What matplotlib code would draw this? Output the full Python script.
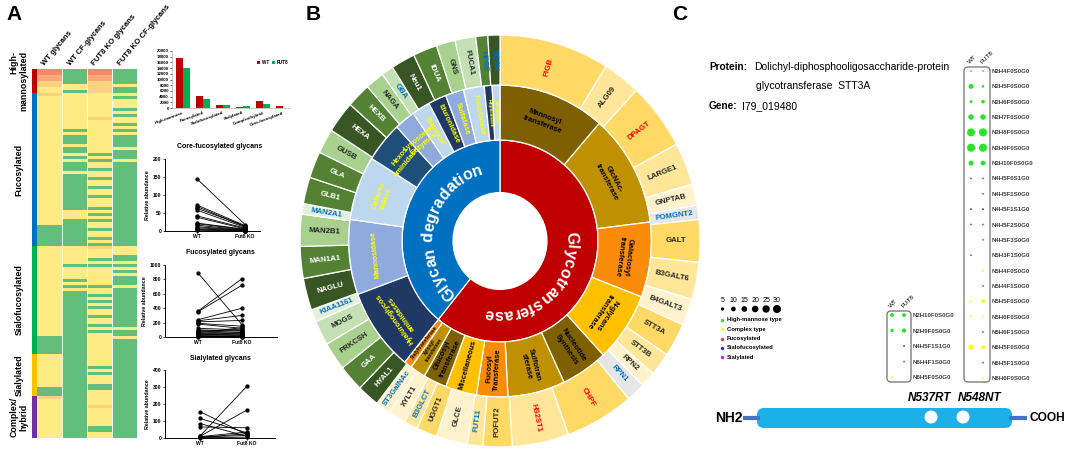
import numpy as np
import matplotlib
matplotlib.use("Agg")
import matplotlib.pyplot as plt
from matplotlib.colors import ListedColormap
from matplotlib.patches import Wedge, FancyBboxPatch, Circle
from matplotlib.font_manager import FontProperties, findfont, get_font

plt.rcParams['font.family'] = ['Liberation Sans', 'DejaVu Sans']

W, H, DPI = 1065, 449, 100

# ---------------- panel A data ----------------
# heatmap columns, run-length coded: g = not detected, y < l < o < r abundance
hm_columns = ['WT glycans', 'WT CF-glycans', 'FUT8 KO glycans', 'FUT8 KO CF-glycans']
hm_wt = [('r', 2), ('o', 2), ('l', 2), ('y', 2), ('l', 1), ('y', 43), ('g', 7),
         ('y', 30), ('g', 6), ('y', 11), ('g', 3), ('l', 1), ('y', 13)]
hm_wt_cf = [('g', 5), ('y', 2), ('g', 1), ('y', 12), ('g', 1), ('y', 1), ('g', 3), ('y', 1),
            ('g', 2), ('y', 1), ('g', 1), ('y', 1), ('g', 3), ('y', 1), ('g', 12), ('y', 3),
            ('g', 9), ('y', 6), ('g', 1), ('y', 4), ('g', 1), ('y', 1), ('g', 1), ('y', 1),
            ('g', 49)]
hm_ko = [('r', 2), ('o', 2), ('l', 4), ('y', 8), ('l', 1), ('y', 11),
         ('g', 1), ('y', 1), ('g', 1), ('y', 2), ('g', 1), ('y', 2), ('g', 1), ('y', 2),
         ('g', 1), ('y', 2), ('g', 1), ('y', 3), ('g', 1), ('y', 1), ('g', 1), ('y', 1),
         ('g', 1), ('y', 2), ('g', 1), ('y', 2), ('g', 1), ('y', 1), ('g', 1),
         ('l', 1), ('y', 3), ('g', 1), ('y', 1), ('g', 1), ('y', 6), ('g', 1), ('y', 2),
         ('g', 1), ('y', 1), ('g', 1), ('y', 1), ('g', 1), ('y', 2), ('g', 1), ('y', 2),
         ('g', 1), ('y', 1), ('g', 1), ('y', 7),
         ('y', 4), ('g', 1), ('y', 1), ('g', 1), ('y', 3), ('g', 2), ('y', 2),
         ('y', 3), ('l', 1), ('y', 6), ('g', 2), ('y', 2)]
hm_ko_cf = [('g', 5), ('y', 1), ('g', 2), ('y', 1), ('g', 1), ('y', 3), ('g', 1), ('y', 1),
            ('g', 1), ('y', 2), ('g', 1), ('y', 1), ('g', 1), ('y', 1), ('g', 4), ('y', 1),
            ('g', 3), ('y', 1), ('g', 28),
            ('y', 3), ('g', 2), ('y', 1), ('g', 1), ('y', 1), ('g', 1), ('y', 1), ('g', 3),
            ('y', 1), ('g', 13), ('y', 1), ('g', 2), ('y', 1), ('g', 33)]
hm_data = [hm_wt, hm_wt_cf, hm_ko, hm_ko_cf]

group_names = ['High-\nmannosylated', 'Fucosylated', 'Sialofucosylated', 'Sialylated', 'Complex/\nhybrid']
group_sizes = [8, 51, 36, 14, 14]
group_colors = ['#C00000', '#0070C0', '#00B050', '#FFC000', '#7030A0']

bar_cats = ['High-mannose', 'Fucosylated', 'Sialofucosylated', 'Sialylated',
            'Complex/hybrid', 'Core-fucosylated']
bar_wt = [17400, 4200, 1200, 400, 2300, 600]
bar_fut8 = [13900, 3300, 1200, 600, 1300, 60]

core_wt = [145, 72, 68, 63, 58, 42, 38, 22, 20, 16, 12, 9, 6, 4, 2]
core_ko = [18, 15, 12, 14, 10, 8, 6, 5, 4, 3, 2, 2, 1, 1, 0]
fuc_wt = [890, 360, 350, 240, 225, 210, 190, 180, 120, 100, 90, 80, 70, 60, 50, 40, 30, 25, 20, 15, 10, 5]
fuc_ko = [170, 810, 720, 400, 300, 230, 150, 120, 100, 80, 60, 90, 50, 130, 40, 30, 20, 60, 10, 15, 5, 3]
sia_wt = [155, 115, 85, 65, 12, 10, 8, 6, 4, 2]
sia_ko = [20, 30, 10, 60, 305, 165, 35, 15, 25, 5]

# ---------------- panel B data (sunburst, clockwise from 12 o'clock) ----------------
inner_names = ['Glycotransferase', 'Glycan degradation']
inner_vals = [219, 141]
inner_colors = ['#C00000', '#0070C0']

mid_names = ['Mannosyl\ntransferase', 'GlcNAc-\ntransferase', 'Galactosyl\ntransferase',
             'N-glycans\ntransferase', 'Nucleotide\nSynthesis', 'Sulfotran\nsferase',
             'Fucosyl\nTransferase', 'Miscellaneous', 'Glucosyl\ntransferase',
             'Xylosyl\ntransferase', 'Sialyltransferase', 'Hyaluronoglycos\naminidases',
             'Mannosidase', 'Galacto\nsidase', 'Hexos\naminidase', 'Lysosomal\nEnzymes',
             'Sialidase', 'Iduronidase', 'Sulfatase', 'Fucosidase', 'Heparanase', 'Sulfatases']
mid_vals = [41, 42, 28, 26, 18, 22, 12, 12, 9, 6, 3, 31, 28, 24, 15, 8, 7, 7, 7, 8, 3, 3]
mid_colors = ['#7F6000', '#BF9000', '#FA8C0A', '#FFC000', '#7F6000', '#BF9000', '#FA8C0A',
              '#FFC000', '#7F6000', '#BF9000', '#FA8C0A', '#203864', '#8FAADC', '#BDD7EE',
              '#1F4E79', '#8FAADC', '#BDD7EE', '#203864', '#8FAADC', '#BDD7EE', '#203864',
              '#BDD7EE']
mid_orient = ['t', 't', 't', 't', 'r', 'r', 'r', 'r', 'r', 'r', 'r',
              't', 't', 't', 't', 't', 'r', 'r', 'r', 'r', 'r', 'r']

genes = ['PIGB', 'ALG09', 'DPAGT', 'LARGE1', 'GNPTAB', 'POMGNT2', 'GALT', 'B3GALT6',
         'B4GALT3', 'STT3A', 'STT3B', 'RPN2', 'RPN1', 'CHPF', 'HS2ST1', 'POFUT2', 'FUT11',
         'GLCE', 'UGGT1', 'B3GLCT', 'XYLT1', 'ST3GalNAc', 'HYAL1', 'GAA', 'PRKCSH', 'MOGS',
         'KIAA1161', 'NAGLU', 'MAN1A1', 'MAN2B1', 'MAN2A1', 'GLB1', 'GLA', 'GUSB', 'HEXA',
         'HEXB', 'NAGA', 'GBA', 'Neu1', 'IDUA', 'GNS', 'FUCA1', 'HPSE', 'SGSH']
gene_vals = [32, 11, 19, 12, 6, 4, 12, 10.5, 7.5, 9.5, 6.5, 4.5, 5.5, 20, 16.5, 8.5, 4.5,
             9, 6, 4, 5, 4.5, 6.5, 7.5, 8, 7, 3.5, 9, 9, 9, 3, 7.5, 7.5, 7, 9, 7, 5.5, 3.5,
             7, 7, 5.5, 6, 3.5, 3.5]
gene_colors = ['#FFD966', '#FFE699', '#FFD966', '#FFE699', '#FFF2CC', '#E7E6E6', '#FFD966',
               '#FFE699', '#FFF2CC', '#FFD966', '#FFE699', '#FFF2CC', '#E7E6E6', '#FFD966',
               '#FFE699', '#FFD966', '#FFE699', '#FFF2CC', '#FFD966', '#FFE699', '#FFF2CC',
               '#FFF2CC', '#375623', '#548235', '#A9D18E', '#C5E0B4', '#E2F0D9', '#375623',
               '#548235', '#A9D18E', '#E2F0D9', '#548235', '#548235', '#A9D18E', '#375623',
               '#548235', '#A9D18E', '#C5E0B4', '#375623', '#548235', '#A9D18E', '#C5E0B4',
               '#548235', '#375623']
red_genes = {'PIGB', 'DPAGT', 'CHPF', 'HS2ST1'}
blue_genes = {'POMGNT2', 'RPN1', 'FUT11', 'B3GLCT', 'ST3GalNAc', 'KIAA1161', 'MAN2A1',
              'GBA', 'HPSE', 'SGSH'}

# ---------------- panel C data ----------------
big_glycans = ['N2H4F0S0G0', 'N2H5F0S0G0', 'N2H6F0S0G0', 'N2H7F0S0G0', 'N2H8F0S0G0',
               'N2H9F0S0G0', 'N2H10F0S0G0', 'N4H5F0S1G0', 'N4H5F1S0G0', 'N4H5F1S1G0',
               'N4H5F2S0G0', 'N4H5F3S0G0', 'N5H3F1S0G0', 'N5H4F0S0G0', 'N5H4F1S0G0',
               'N5H5F0S0G0', 'N5H6F0S0G0', 'N5H6F1S0G0', 'N6H5F0S0G0', 'N6H5F1S0G0',
               'N6H6F0S0G0']
big_wt = [1.5, 11, 4, 14, 29, 30, 11, 1.5, 0, 1.5, 1.5, 0, 1.5, 0, 0, 1.5, 1.5, 0, 13, 0, 0]
big_fut8 = [1.5, 3, 6, 14, 30, 30, 11, 1.5, 1.5, 1.5, 1.5, 1.5, 0, 1.5, 1.5, 7, 1.5, 1.5, 7, 1.5, 1.5]
small_glycans = ['N2H10F0S0G0', 'N2H9F0S0G0', 'N4H5F1S1G0', 'N6H4F1S0G0', 'N6H5F0S0G0']
small_wt = [7, 5.5, 0, 0, 1.5]
small_fut8 = [7, 8.5, 1.5, 1.5, 0]
size_legend = [5, 10, 15, 20, 25, 30]
type_names = ['High-mannose type', 'Complex type', 'Fucosylated', 'Sialofucosylated', 'Sialylated']
type_colors = ['#26E626', '#FFFF00', '#EE3060', '#2424FF', '#FF00FF']
sites = ['N537RT', 'N548NT']


def px_axes(x0, y0, x1, y1, **kw):
    return fig.add_axes([x0 / W, 1 - y1 / H, (x1 - x0) / W, (y1 - y0) / H], **kw)


fig = plt.figure(figsize=(W / DPI, H / DPI), dpi=DPI)
ov = px_axes(0, 0, W, H)
ov.set_xlim(0, W)
ov.set_ylim(H, 0)
ov.axis('off')

for letter, x in [('A', 14), ('B', 313), ('C', 680)]:
    ov.text(x, 14, letter, fontsize=15, fontweight='bold', ha='center', va='center')

# ---- heatmap ----
code_val = {'g': 0, 'y': 1, 'l': 2, 'o': 3, 'r': 4}
mat = np.column_stack([np.concatenate([np.full(n, code_val[c]) for c, n in col])
                       for col in hm_data])
axh = px_axes(37, 69, 137, 438)
axh.imshow(mat, aspect='auto', interpolation='nearest', vmin=-0.5, vmax=4.5,
           cmap=ListedColormap(['#63BE7B', '#FFEB84', '#FDD27F', '#FBAA77', '#F8876E']))
for xv in [0.5, 1.5, 2.5]:
    axh.axvline(xv, color='white', lw=0.6)
axh.axis('off')

grp = np.repeat(np.arange(len(group_sizes)), group_sizes)[:, None]
axg = px_axes(32, 69, 37, 438)
axg.imshow(grp, aspect='auto', interpolation='nearest', vmin=-0.5, vmax=4.5,
           cmap=ListedColormap(group_colors))
axg.axis('off')

row_h = (438 - 69) / len(mat)
starts = np.concatenate([[0], np.cumsum(group_sizes)[:-1]])
for name, s0, n in zip(group_names, starts, group_sizes):
    ov.text(19, 69 + (s0 + n / 2) * row_h, name, rotation=90, ha='center', va='center',
            fontsize=6.4, fontweight='bold',
            multialignment='right' if name.startswith('High') else 'center')

for i, name in enumerate(hm_columns):
    ov.text(37 + (i + 0.5) * 25 - 3, 67, name, rotation=50, rotation_mode='anchor',
            ha='left', va='bottom', fontsize=5.6, fontweight='bold')

# ---- bar chart ----
axb = px_axes(172, 51, 290, 108)
xb = np.arange(len(bar_cats))
axb.bar(xb - 0.17, bar_wt, 0.34, color='#C00000', label='WT')
axb.bar(xb + 0.17, bar_fut8, 0.34, color='#00B050', label='FUT8')
axb.set_xlim(-0.55, 5.35)
axb.set_ylim(0, 20000)
axb.set_yticks(range(0, 20001, 2000))
axb.set_xticks(xb)
axb.set_xticklabels(bar_cats, rotation=20, ha='right', rotation_mode='anchor',
                    fontweight='bold')
axb.tick_params(labelsize=3.2, length=1.2, width=0.4, pad=1)
axb.tick_params(axis='x', length=0, pad=2)
for lab in axb.get_yticklabels():
    lab.set_fontweight('bold')
for s in ['top', 'right']:
    axb.spines[s].set_visible(False)
for s in ['left', 'bottom']:
    axb.spines[s].set_linewidth(0.4)
axb.spines['left'].set_color('#A0A0A0')
axb.spines['bottom'].set_color('#A0A0A0')
axb.legend(loc='upper right', bbox_to_anchor=(1.02, 0.92), ncol=2, frameon=False,
           prop={'size': 3.3, 'weight': 'bold'}, handlelength=0.6, handleheight=0.6,
           handletextpad=0.3, columnspacing=0.8)


# ---- paired line charts ----
def pair_plot(rect, title, wt, ko, ymax, ystep, xlim):
    ax = px_axes(*rect)
    for a, b in zip(wt, ko):
        ax.plot([0, 1], [a, b], color='black', lw=0.6, marker='o', ms=2.1, mec='black',
                mfc='black', clip_on=False)
    ax.set_xlim(*xlim)
    ax.set_ylim(0, ymax)
    ax.set_yticks(np.arange(0, ymax + 1, ystep))
    ax.set_xticks([0, 1])
    ax.set_xticklabels(['WT', 'Fut8 KO'])
    ax.tick_params(labelsize=3.6, length=1.5, width=0.5, pad=1)
    for lab in ax.get_xticklabels() + ax.get_yticklabels():
        lab.set_fontweight('bold')
    ax.set_ylabel('Relative abundance', fontsize=3.8, fontweight='bold', labelpad=2)
    for s in ['top', 'right']:
        ax.spines[s].set_visible(False)
    for s in ['left', 'bottom']:
        ax.spines[s].set_linewidth(0.7)
    ov.text(220, rect[1] - 12, title, ha='center', va='center', fontsize=5.0,
            fontweight='bold')
    return ax


pair_plot((165, 159, 260, 231), 'Core-fucosylated glycans', core_wt, core_ko, 200, 50,
          (-0.667, 1.313))
pair_plot((165, 265, 277, 337), 'Fucosylated glycans', fuc_wt, fuc_ko, 1000, 200,
          (-0.75, 1.795))
pair_plot((165, 370, 275, 438), 'Sialylated glycans', sia_wt, sia_ko, 400, 100,
          (-0.745, 1.596))

# ---- sunburst ----
axs = px_axes(300, 35, 700, 447)
axs.set_xlim(-1, 1)
axs.set_ylim(-1, 1)
axs.axis('off')
R_HOLE, R_IN, R_MID, R_OUT = 0.235, 0.49, 0.757, 1.0
R_PX = 203.0


def ring(vals, r0, r1, colors):
    edges = 90 - np.concatenate([[0], np.cumsum(vals)])
    for i in range(len(vals)):
        axs.add_patch(Wedge((0, 0), r1, edges[i + 1], edges[i], width=r1 - r0,
                            facecolor=colors[i], edgecolor='white', lw=0.9))
    return (edges[:-1] + edges[1:]) / 2


def ring_label(text, theta, r, mode, **kw):
    th = np.deg2rad(theta)
    tn = theta % 360
    if mode == 'r':
        rot = tn - 180 if 90 < tn < 270 else tn
        if rot > 180:
            rot -= 360
    else:
        rot = theta - 90
    axs.text(r * np.cos(th), r * np.sin(th), text, rotation=rot, rotation_mode='anchor',
             ha='center', va='center', multialignment='center', fontweight='bold', **kw)


def curved_text(text, theta_c, r_base, fs, color):
    fp = FontProperties(family='Liberation Sans', weight='bold', size=fs)
    font = get_font(findfont(fp))
    font.set_size(fs, 72)
    adv = np.array([font.load_char(ord(c)).linearHoriAdvance / 65536.0 for c in text])
    adv = adv * DPI / 72.0
    offs = np.cumsum(adv) - adv / 2 - adv.sum() / 2
    for c, off in zip(text, offs):
        th = theta_c - np.degrees(off / (r_base * R_PX))
        t = np.deg2rad(th)
        axs.text(r_base * np.cos(t), r_base * np.sin(t), c, rotation=th - 90,
                 rotation_mode='anchor', ha='center', va='baseline', fontsize=fs,
                 fontweight='bold', color=color)


inner_mid = ring(inner_vals, R_HOLE, R_IN, inner_colors)
mid_mid = ring(mid_vals, R_IN, R_MID, mid_colors)
gene_mid = ring(gene_vals, R_MID, R_OUT, gene_colors)

curved_text('Glycotransferase', -47, 0.335, 11.5, 'white')
curved_text('Glycan degradation', 167, 0.335, 11.5, 'white')

r_m = (R_IN + R_MID) / 2
for name, th, v, mode, col in zip(mid_names, mid_mid, mid_vals, mid_orient, mid_colors):
    nl = name.count('\n') + 1
    if mode == 'r':
        fs = min(5.4, v * np.pi / 180 * r_m * R_PX * 0.55 / nl)
    else:
        fs = 5.4
    tcol = 'black' if col in ('#7F6000', '#BF9000', '#FA8C0A', '#FFC000') else '#FFFF00'
    ring_label(name, th, r_m, mode, fontsize=fs, color=tcol)

r_g = (R_MID + R_OUT) / 2
for name, th, col in zip(genes, gene_mid, gene_colors):
    if name in red_genes:
        tcol = '#FF0000'
    elif name in blue_genes:
        tcol = '#0070C0'
    elif col in ('#375623', '#548235'):
        tcol = 'white'
    else:
        tcol = '#262626'
    ring_label(name, th, r_g, 'r', fontsize=5.6, color=tcol)

# ---- panel C text ----
ov.text(709, 67, 'Protein:', fontsize=7.3, fontweight='bold', va='center')
ov.text(754, 67, 'Dolichyl-diphosphooligosaccharide-protein', fontsize=7.5, va='center')
ov.text(756, 86, 'glycotransferase  STT3A', fontsize=7.5, va='center')
ov.text(709, 106, 'Gene:', fontsize=7.3, fontweight='bold', va='center')
ov.text(742, 106, 'I79_019480', fontsize=7.5, va='center')


def dot_size(v):
    return np.asarray(v, float) * 1.13


def glycan_color(name):
    f = int(name.split('F')[1][0])
    s = int(name.split('S')[1][0])
    if f and s:
        return type_colors[3]
    if f:
        return type_colors[2]
    if s:
        return type_colors[4]
    if name.startswith('N2'):
        return type_colors[0]
    return type_colors[1]


def dot_box(rect, names, wt, fut8, xlim, ylim):
    ax = px_axes(*rect)
    rows = np.arange(len(names))
    cols = np.array([glycan_color(n) for n in names])
    for j, vals in enumerate([wt, fut8]):
        v = np.asarray(vals, float)
        m = v > 0
        ax.scatter(np.full(m.sum(), j), rows[m], s=dot_size(v[m]), c=cols[m],
                   linewidths=0, clip_on=False)
    ax.set_xlim(*xlim)
    ax.set_ylim(*ylim)
    ax.set_yticks(rows)
    ax.set_yticklabels(names, fontsize=4.4, fontweight='bold', color='#404040')
    ax.yaxis.tick_right()
    ax.set_xticks([0, 1])
    ax.set_xticklabels(['WT', 'FUT8'], rotation=45, ha='left', rotation_mode='anchor',
                       fontsize=4.6)
    ax.xaxis.tick_top()
    ax.tick_params(length=0, pad=1.5)
    for s in ax.spines.values():
        s.set_visible(False)
    ax.patch.set_alpha(0)
    ov.add_patch(FancyBboxPatch((rect[0], rect[1]), rect[2] - rect[0], rect[3] - rect[1],
                                boxstyle='round,pad=0,rounding_size=4', fc='none',
                                ec='#7F7F7F', lw=1.0))


dot_box((964, 67, 990, 382), big_glycans, big_wt, big_fut8, (-0.583, 1.583), (20.26, -0.26))
dot_box((887, 311, 911, 382), small_glycans, small_wt, small_fut8, (-0.42, 1.58), (4.32, -0.26))

# size and type legends
lx = 722.5 + np.arange(len(size_legend)) * 10.9
ov.scatter(lx, np.full(len(lx), 309), s=dot_size(size_legend), c='black', linewidths=0)
for x, v in zip(lx, size_legend):
    ov.text(x, 300, str(v), fontsize=5, ha='center', va='center')
for i, (nm, c) in enumerate(zip(type_names, type_colors)):
    y = 320 + i * 9.3
    ov.scatter([722], [y], s=6, c=c, linewidths=0)
    ov.text(727, y, nm, fontsize=4.2, fontweight='bold', va='center')

# protein schematic
ov.plot([743, 760], [418, 418], color='#4472C4', lw=3, solid_capstyle='butt')
ov.plot([1009, 1027], [418, 418], color='#4472C4', lw=3, solid_capstyle='butt')
ov.add_patch(FancyBboxPatch((757, 408), 255, 20, boxstyle='round,pad=0,rounding_size=7',
                            fc='#1CB0E8', ec='none'))
ov.text(742, 418, 'NH2', fontsize=10, fontweight='bold', ha='right', va='center')
ov.text(1029, 418, 'COOH', fontsize=8.6, fontweight='bold', ha='left', va='center')
site_x = [931, 963]
label_x = [929, 980]
for name, sx, lxp in zip(sites, site_x, label_x):
    ov.add_patch(Circle((sx, 417), 6.5, fc='white', ec='none'))
    ov.text(lxp, 398, name, fontsize=8.5, fontweight='bold', fontstyle='italic',
            ha='center', va='center')

fig.savefig('out.png', dpi=DPI, facecolor='white')
